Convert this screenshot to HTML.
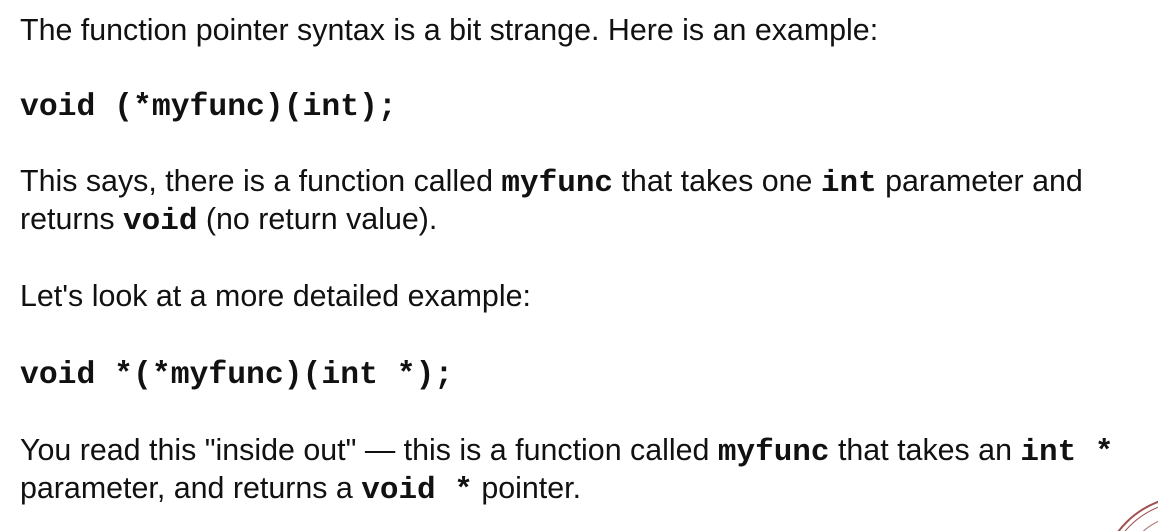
<!DOCTYPE html>
<html><head><meta charset="utf-8"><style>
html,body{margin:0;width:1158px;height:531px;overflow:hidden}
body{background:#fff;position:relative;font-family:"Liberation Sans",sans-serif;color:#111}
.t{position:absolute;left:20px;font-size:30.4px;line-height:38px;white-space:nowrap;letter-spacing:0}
.c{font-family:"Liberation Mono",monospace;font-weight:bold;font-size:31px;letter-spacing:0;line-height:0}
.code{position:absolute;left:20px;font-family:"Liberation Mono",monospace;font-weight:bold;font-size:31.4px;line-height:38px;white-space:pre}
</style></head><body>
<div class="t" style="top:11px">The function pointer syntax is a bit strange. Here is an example:</div>
<div class="code" style="top:89px">void (*myfunc)(int);</div>
<div class="t" style="top:162px">This says, there is a function called <span class="c">myfunc</span> that takes one <span class="c">int</span> parameter and<br>returns <span class="c">void</span> (no return value).</div>
<div class="t" style="top:277px">Let's look at a more detailed example:</div>
<div class="code" style="top:357px">void *(*myfunc)(int *);</div>
<div class="t" style="top:431px">You read this "inside out" — this is a function called <span class="c">myfunc</span> that takes an <span class="c">int *</span><br>parameter, and returns a <span class="c">void *</span> pointer.</div>
<svg style="position:absolute;left:1100px;top:488px" width="58" height="43">
<circle cx="90" cy="98" r="90" fill="none" stroke="#a05050" stroke-width="2"/>
<circle cx="90" cy="98" r="85" fill="none" stroke="#a05050" stroke-width="1"/>
<circle cx="90" cy="98" r="72" fill="none" stroke="#b07070" stroke-width="1"/>
</svg>
</body></html>
